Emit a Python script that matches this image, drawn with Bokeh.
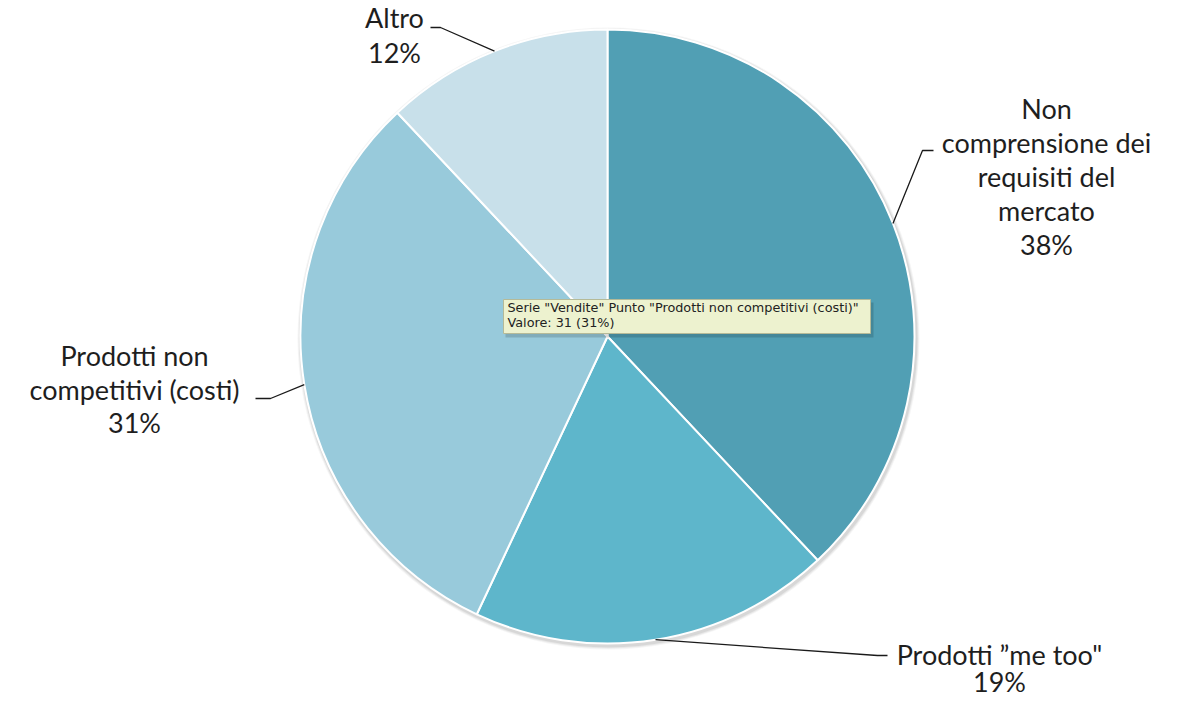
import numpy as np
from bokeh.plotting import figure
from bokeh.models import Range1d
from bokeh.core.properties import value
from bokeh.embed import file_html
from bokeh.resources import INLINE

# ---- data ----
categories = ["Non comprensione dei requisiti del mercato", "Prodotti \u201dme too\"",
              "Prodotti non competitivi (costi)", "Altro"]
values = [38, 19, 31, 12]
label_lines = [["Non", "comprensione dei", "requisiti del", "mercato", "38%"],
               ["Prodotti \u201dme too\"", "19%"],
               ["Prodotti non", "competitivi (costi)", "31%"],
               ["Altro", "12%"]]
colors = ["#519FB4", "#5EB6CB", "#98CADB", "#C8E0EA"]
tooltip_lines = ["Serie \"Vendite\" Punto \"Prodotti non competitivi (costi)\"",
                 "Valore: 31 (31%)"]

W, H = 1163, 699
SH = H  # screen height used for y flip


def Y(ys):
    return SH - ys


p = figure(width=W, height=H, output_backend="svg", toolbar_location=None,
           x_range=Range1d(0, W), y_range=Range1d(0, H),
           min_border=0)
p.axis.visible = False
p.grid.visible = False
p.outline_line_color = None
p.background_fill_color = "white"

cx, cy, r = 607, Y(336), 307
vals = np.array(values, dtype=float)
frac = vals / vals.sum()
ends = np.pi / 2 - 2 * np.pi * np.cumsum(frac)
starts = np.concatenate([[np.pi / 2], ends[:-1]])
mids = (starts + ends) / 2

# soft shadow
for k, a in [(4, 0.04), (3, 0.05), (2, 0.07)]:
    p.circle(x=[cx + 1], y=[cy - 2], radius=r + k, fill_color="black",
             fill_alpha=a, line_color=None)

p.wedge(x=[cx] * 4, y=[cy] * 4, radius=r, start_angle=list(starts),
        end_angle=list(ends), direction="clock", fill_color=colors,
        line_color="white", line_width=2)

# leader lines (elbow, then horizontal)
elbows = [((922, 150), (933, 150)), ((877, 655), (887, 655)),
          ((270, 398), (255, 398)), ((440, 27), (430, 27))]
for m, (e1, e2) in zip(mids, elbows):
    sx = cx + r * np.cos(m)
    sy = cy + r * np.sin(m)
    p.line(x=[sx, e1[0], e2[0]], y=[sy, Y(e1[1]), Y(e2[1])],
           line_color="#1a1a1a", line_width=1.3)

# labels (centre x, first baseline, line step)
label_pos = [(1046, 108, 34), (999, 654, 27), (134, 355, 33.5), (394, 17, 35)]
font = value("Lato")
for lines, (lx, ly, step) in zip(label_lines, label_pos):
    xs = [lx] * len(lines)
    ys = [Y(ly + i * step) for i in range(len(lines))]
    p.text(x=xs, y=ys, text=lines, text_font=font, text_font_size="27px",
           text_color="#1e1e1e", text_align="center",
           text_baseline="alphabetic")

# tooltip box
p.quad(left=[505], right=[873], top=[Y(302)], bottom=[Y(337)],
       fill_color="black", fill_alpha=0.15, line_color=None)
p.quad(left=[503], right=[870], top=[Y(299)], bottom=[Y(333)],
       fill_color="#EDF2CF", line_color="#B5BA98", line_width=1)
p.text(x=[507, 507], y=[Y(307), Y(322)], text=tooltip_lines,
       text_font=value("DejaVu Sans"), text_font_size="12.8px",
       text_color="#222222", text_baseline="alphabetic")

open("out.html", "w").write(file_html(p, INLINE))
